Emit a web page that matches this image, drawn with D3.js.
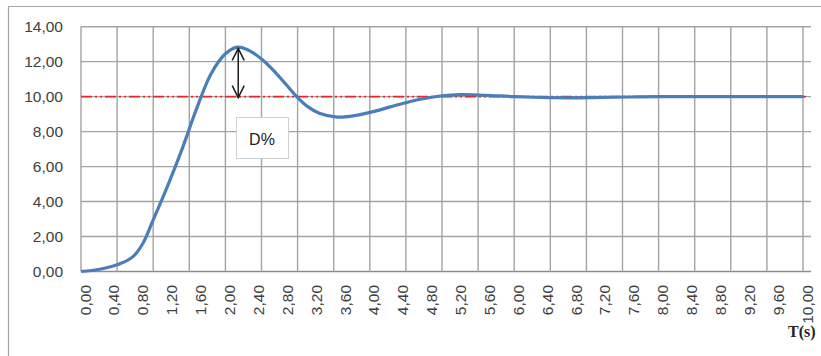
<!DOCTYPE html>
<html>
<head>
<meta charset="utf-8">
<script src="https://cdn.jsdelivr.net/npm/d3@7"></script>
<style>
  html, body { margin: 0; padding: 0; background: #fff; }
  svg { display: block; }
</style>
</head>
<body>
<svg id="chart" width="821" height="356"></svg>
<script>
// ---- data ----
const timeValues = [0, 0.26, 0.52, 0.72, 0.86, 1.0, 1.2, 1.4, 1.6, 1.8, 2.0, 2.15, 2.3, 2.5, 2.7, 2.85, 3.0, 3.15, 3.3, 3.55, 3.8, 4.1, 4.4, 4.7, 5.0, 5.25, 5.6, 6.0, 6.4, 6.8, 7.2, 7.6, 8.0, 8.5, 9.0, 9.5, 10.0];
const responseValues = [0, 0.13, 0.41, 0.85, 1.63, 2.95, 4.9, 7.0, 9.3, 11.3, 12.45, 12.82, 12.7, 12.15, 11.35, 10.65, 9.95, 9.4, 9.05, 8.83, 8.92, 9.2, 9.55, 9.85, 10.05, 10.12, 10.08, 10.0, 9.95, 9.93, 9.96, 9.98, 10.0, 10.0, 10.0, 10.0, 10.0];
const setpoint = 10;
const xTickLabels = ["0,00","0,40","0,80","1,20","1,60","2,00","2,40","2,80","3,20","3,60","4,00","4,40","4,80","5,20","5,60","6,00","6,40","6,80","7,20","7,60","8,00","8,40","8,80","9,20","9,60","10,00"];
const xGridValues = d3.range(0, 10.0001, 0.5);
const yTickValues = [0, 2, 4, 6, 8, 10, 12, 14];
const yTickLabels = ["0,00","2,00","4,00","6,00","8,00","10,00","12,00","14,00"];
const xAxisTitle = "T(s)";
const annotationText = "D%";
const peakTime = 2.15, peakValue = 12.82;

// ---- layout ----
const svg = d3.select("#chart");
const pLeft = 81, pRight = 803, pTop = 26.7, pBottom = 271.5;
const x = d3.scaleLinear().domain([0, 10]).range([pLeft, pRight]);
const y = d3.scaleLinear().domain([0, 14]).range([pBottom, pTop]);

// outer frame (partial, as in the reference)
svg.append("line").attr("x1", 8).attr("x2", 821).attr("y1", 6.5).attr("y2", 6.5)
  .attr("stroke", "#a6a6a6").attr("stroke-width", 1.2);
svg.append("line").attr("x1", 8.5).attr("x2", 8.5).attr("y1", 6).attr("y2", 356)
  .attr("stroke", "#a6a6a6").attr("stroke-width", 1.2);

// grid
const grid = svg.append("g");
grid.selectAll("line.h").data(yTickValues).join("line")
  .attr("x1", pLeft).attr("x2", 811)
  .attr("y1", d => y(d)).attr("y2", d => y(d))
  .attr("stroke", d => d === 0 ? "#8c8c8c" : "#a3a3a3").attr("stroke-width", 1.4);
grid.selectAll("line.v").data(xGridValues).join("line")
  .attr("x1", d => x(d)).attr("x2", d => x(d))
  .attr("y1", pTop).attr("y2", pBottom)
  .attr("stroke", "#a3a3a3").attr("stroke-width", 1.4);

// y labels
svg.append("g").selectAll("text").data(yTickValues).join("text")
  .attr("x", 63).attr("y", d => y(d)).attr("dy", "0.36em")
  .attr("text-anchor", "end")
  .attr("font-family", "Liberation Sans, Arial, sans-serif").attr("font-size", 15.5)
  .attr("fill", "#404040")
  .text((d, i) => yTickLabels[i]);

// x labels (rotated)
svg.append("g").selectAll("text").data(xTickLabels).join("text")
  .attr("transform", (d, i) => `translate(${x(i * 0.4) + 4},285) rotate(-90)`)
  .attr("dy", "0.36em")
  .attr("text-anchor", "end")
  .attr("font-family", "Liberation Sans, Arial, sans-serif").attr("font-size", 15.5)
  .attr("fill", "#404040")
  .text(d => d);

// axis title
svg.append("text").attr("x", 788).attr("y", 337)
  .attr("font-family", "Liberation Serif, Times New Roman, serif").attr("font-weight", "bold")
  .attr("font-size", 16).attr("fill", "#222")
  .text(xAxisTitle);

// setpoint line (dash-dot-dot)
svg.append("line").attr("x1", pLeft).attr("x2", 806)
  .attr("y1", y(setpoint)).attr("y2", y(setpoint))
  .attr("stroke", "#e8262c").attr("stroke-width", 1.8)
  .attr("stroke-dasharray", "11 3 2 3 2 3");

// response curve
const pts = timeValues.map((t, i) => [t, responseValues[i]]);
svg.append("path").datum(pts)
  .attr("fill", "none").attr("stroke", "#4a7ebb").attr("stroke-width", 3.2)
  .attr("stroke-linejoin", "round")
  .attr("d", d3.line().x(d => x(d[0])).y(d => y(d[1])).curve(d3.curveCatmullRom.alpha(0.5)));

// double arrow
const ax = x(peakTime) + 2;
const ay1 = y(peakValue) + 1, ay2 = y(setpoint) + 1;
svg.append("line").attr("x1", ax).attr("x2", ax).attr("y1", ay1).attr("y2", ay2)
  .attr("stroke", "#1a1a1a").attr("stroke-width", 1.5);
svg.append("path").attr("d", `M${ax-6},${ay1+12} L${ax},${ay1} L${ax+6},${ay1+12}`)
  .attr("fill", "none").attr("stroke", "#1a1a1a").attr("stroke-width", 1.5);
svg.append("path").attr("d", `M${ax-6},${ay2-12} L${ax},${ay2} L${ax+6},${ay2-12}`)
  .attr("fill", "none").attr("stroke", "#1a1a1a").attr("stroke-width", 1.5);

// annotation box
svg.append("rect").attr("x", 236.5).attr("y", 117.5).attr("width", 52).attr("height", 41)
  .attr("fill", "#fff").attr("stroke", "#d0d0d0").attr("stroke-width", 1);
svg.append("text").attr("x", 262).attr("y", 139).attr("dy", "0.36em")
  .attr("text-anchor", "middle")
  .attr("font-family", "Liberation Sans, Arial, sans-serif").attr("font-size", 16)
  .attr("fill", "#222").text(annotationText);
</script>
</body>
</html>
